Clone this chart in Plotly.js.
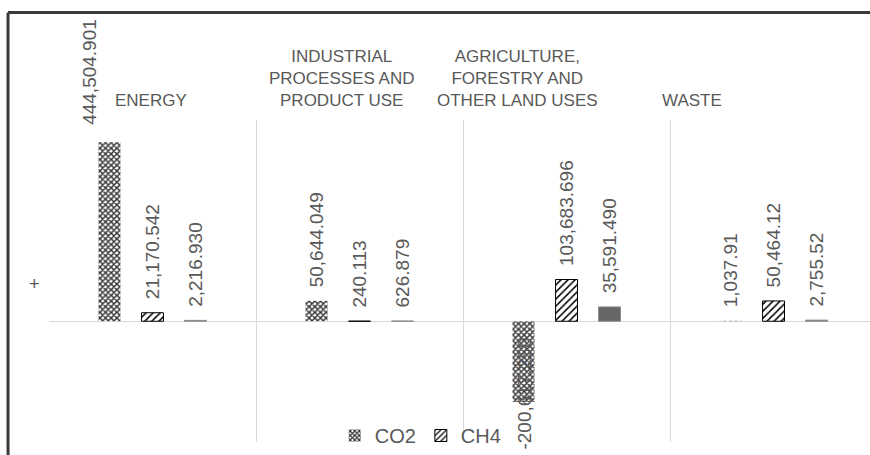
<!DOCTYPE html>
<html>
<head>
<meta charset="utf-8">
<script src="https://cdn.plot.ly/plotly-3.0.1.min.js"></script>
<style>html,body{margin:0;padding:0;background:#fff;}#chart{width:870px;height:455px;}</style>
</head>
<body>
<div id="chart"></div>
<script>
const categories = ['ENERGY', 'INDUSTRIAL<br>PROCESSES AND<br>PRODUCT USE', 'AGRICULTURE,<br>FORESTRY AND<br>OTHER LAND USES', 'WASTE'];
const co2 = [444504.901, 50644.049, -200617.250, 1037.91];
const ch4 = [21170.542, 240.113, 103683.696, 50464.12];
const n2o = [2216.930, 626.879, 35591.490, 2755.52];
const co2Labels = ['444,504.901', '50,644.049', '-200,617.250', '1,037.91'];
const ch4Labels = ['21,170.542', '240.113', '103,683.696', '50,464.12'];
const n2oLabels = ['2,216.930', '626.879', '35,591.490', '2,755.52'];

// layout-only settings (pixel nudges for text placement)
const categoryLabelShift = [-1.5, -17.5, -49.5, -81.5];
const co2LabelMoved = [true, false, true, false];
const co2LabelShiftX = [-63, 0, -43, 0];
const co2LabelShiftY = [15, 0, 66, 0];

const grey = '#595959';
const fam = 'Liberation Sans, Arial, sans-serif';
const labelFont = {family: fam, size: 19, color: grey};
const pad = '\u00a0\u00a0';

const co2Text = co2Labels.map((t, i) => co2LabelMoved[i] ? '' : t);

const traces = [
  {
    type: 'bar', name: 'CO2', x: categories, y: co2, text: co2Text,
    texttemplate: pad + '%{text}', textposition: 'outside', textangle: -90,
    textfont: labelFont, cliponaxis: false, constraintext: 'none',
    marker: {color: 'white', pattern: {shape: 'x', size: 4, solidity: 0.6, fgcolor: '#333333', bgcolor: 'white'}, line: {width: 0}},
    hoverinfo: 'none'
  },
  {
    type: 'bar', name: 'CH4', x: categories, y: ch4, text: ch4Labels,
    texttemplate: pad + '%{text}', textposition: 'outside', textangle: -90,
    textfont: labelFont, cliponaxis: false, constraintext: 'none',
    marker: {color: 'white', pattern: {shape: '/', size: 5, solidity: 0.3, fgcolor: '#000000', bgcolor: 'white'}, line: {width: 1, color: '#000000'}},
    hoverinfo: 'none'
  },
  {
    type: 'bar', name: 'N2O', x: categories, y: n2o, text: n2oLabels,
    texttemplate: pad + '%{text}', textposition: 'outside', textangle: -90,
    textfont: labelFont, cliponaxis: false, constraintext: 'none', showlegend: false,
    marker: {color: '#666666', line: {width: 1, color: '#8c8c8c'}},
    hoverinfo: 'none'
  }
];

const annotations = [];
categories.forEach((c, i) => {
  annotations.push({
    x: c, xref: 'x', y: 1, yref: 'paper', yanchor: 'bottom', yshift: 8,
    xshift: categoryLabelShift[i], text: c, showarrow: false, align: 'center',
    font: {family: fam, size: 17, color: grey}
  });
});
co2.forEach((v, i) => {
  if (co2LabelMoved[i]) {
    annotations.push({
      x: categories[i], y: v, xref: 'x', yref: 'y', text: co2Labels[i],
      textangle: -90, showarrow: false, xshift: co2LabelShiftX[i],
      yanchor: v < 0 ? 'top' : 'bottom', yshift: co2LabelShiftY[i],
      font: labelFont
    });
  }
});
annotations.push({
  xref: 'paper', yref: 'paper', x: -0.0177, y: 0.49, xanchor: 'center', yanchor: 'middle',
  text: '+', showarrow: false,
  font: {family: fam, size: 18, color: grey}
});

const layout = {
  width: 870, height: 455,
  margin: {l: 49, r: 0, t: 120, b: 12, pad: 0},
  paper_bgcolor: 'white', plot_bgcolor: 'white',
  barmode: 'group', bargap: 0.377, bargroupgap: 0.49,
  font: {family: fam, color: grey},
  xaxis: {
    type: 'category', side: 'top', range: [-0.5, 3.466],
    tickson: 'boundaries', showgrid: true, gridcolor: '#d9d9d9', gridwidth: 1,
    ticks: '', showline: false, zeroline: false, showticklabels: false
  },
  yaxis: {
    range: [-300000, 500000], showgrid: false, showticklabels: false, ticks: '',
    zeroline: true, zerolinecolor: '#d9d9d9', zerolinewidth: 1, showline: false
  },
  showlegend: true,
  legend: {
    orientation: 'h', x: 0.348, xanchor: 'left', y: 0.02, yanchor: 'middle',
    bgcolor: 'rgba(0,0,0,0)', itemwidth: 30,
    font: {family: fam, size: 20, color: grey}
  },
  annotations: annotations,
  shapes: [
    {type: 'line', xref: 'paper', yref: 'paper', x0: -0.0499, x1: 1.01, y0: 1.334, y1: 1.334, line: {color: '#3a3a3a', width: 3}},
    {type: 'line', xref: 'paper', yref: 'paper', x0: -0.0499, x1: -0.0499, y0: 1.334, y1: -0.05, line: {color: '#3a3a3a', width: 3}}
  ]
};

Plotly.newPlot('chart', traces, layout, {displayModeBar: false, staticPlot: true});
</script>
</body>
</html>
